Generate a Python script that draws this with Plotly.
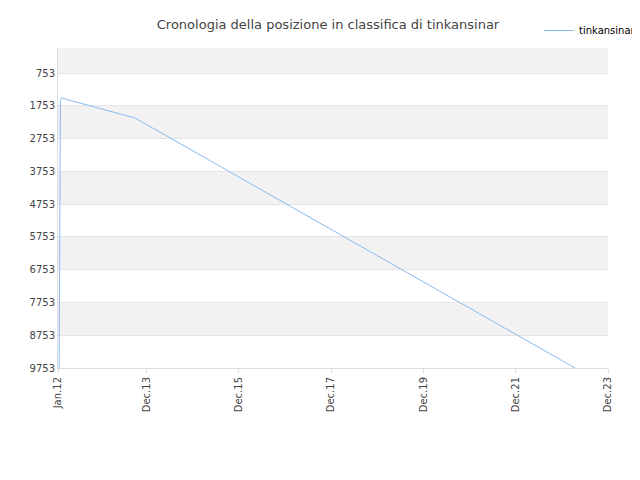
import plotly.graph_objects as go

dates = ["2012-01-10", "2012-01-20", "2012-01-28", "2013-09-01", "2023-03-15"]
ranks = [9753, 1600, 1515, 2125, 9753]
tick_vals = ["2012-01-01", "2013-12-01", "2015-12-01", "2017-12-01", "2019-12-01", "2021-12-01", "2023-12-01"]
tick_text = ["Jan.12", "Dec.13", "Dec.15", "Dec.17", "Dec.19", "Dec.21", "Dec.23"]
y_ticks = [753, 1753, 2753, 3753, 4753, 5753, 6753, 7753, 8753, 9753]

fig = go.Figure()
fig.add_trace(go.Scatter(x=dates, y=ranks, mode="lines", name="tinkansinar",
                         line=dict(color="#88bbee", width=1)))
shapes = []
bounds = [-10] + y_ticks
for i in range(len(bounds) - 1):
    if i % 2 == 0:
        shapes.append(dict(type="rect", xref="paper", yref="y", x0=0, x1=1,
                           y0=bounds[i], y1=bounds[i + 1], fillcolor="#f2f2f2",
                           line_width=0, layer="below"))
fig.update_layout(
    width=640, height=480, paper_bgcolor="white", plot_bgcolor="white",
    margin=dict(l=50, r=40, t=40, b=120, autoexpand=False), shapes=shapes,
    title=dict(text="Cronologia della posizione in classifica di tinkansinar", x=0.5, y=0.975,
               font=dict(size=13, color="#444", family="DejaVu Sans")),
    font=dict(family="DejaVu Sans", size=10, color="#444"),
    legend=dict(x=1.06, y=1.1, xanchor="right", yanchor="top", font=dict(size=10, color="#000")),
    showlegend=True,
)
fig.update_xaxes(range=["2012-01-01", "2023-12-01"], tickvals=tick_vals, ticktext=tick_text,
                 tickangle=-90, showgrid=False, showline=True, linecolor="#ddd", ticks="outside",
                 ticklen=4, tickcolor="#ddd", automargin=False)
fig.update_yaxes(range=[9753, -10], tickvals=y_ticks, showgrid=True, gridcolor="#e5e5e5",
                 zeroline=False, showline=True, linecolor="#ddd", automargin=False)
fig.write_html("out.html")
